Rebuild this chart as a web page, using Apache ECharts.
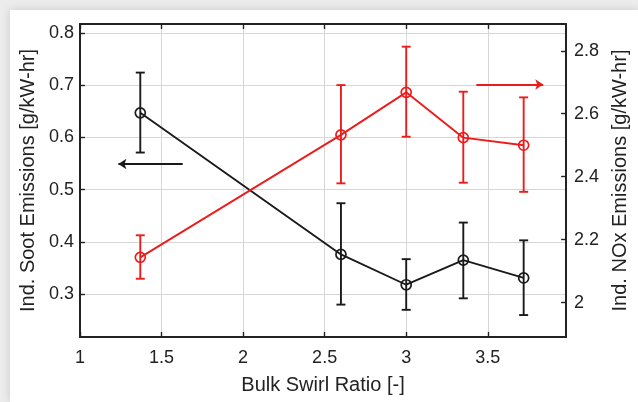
<!DOCTYPE html>
<html>
<head>
<meta charset="utf-8">
<script src="https://cdn.jsdelivr.net/npm/echarts@6/dist/echarts.min.js"></script>
<style>
    body { margin: 0; width: 638px; height: 402px; overflow: hidden; background: #ececec; }
    #chart { position: absolute; left: 10px; top: 10px; width: 628px; height: 392px; background: #fff; box-shadow: 0 0 8px rgba(0, 0, 0, 0.15); }
</style>
</head>
<body>
<div id="chart"></div>
<script>
// swirl ratio of each test point
const swirl = [1.37, 2.6, 3.0, 3.35, 3.72]
// soot (left axis) with error range
const soot = [0.647, 0.376, 0.318, 0.365, 0.331]
const sootLow = [0.571, 0.28, 0.270, 0.292, 0.26]
const sootHigh = [0.724, 0.474, 0.367, 0.437, 0.403]
// NOx (right axis) with error range
const nox = [2.144, 2.533, 2.668, 2.524, 2.50]
const noxLow = [2.076, 2.379, 2.527, 2.381, 2.352]
const noxHigh = [2.214, 2.691, 2.813, 2.670, 2.652]
// tick labels
const xTicks = [1, 1.5, 2, 2.5, 3, 3.5]
const sootTicks = [0.3, 0.4, 0.5, 0.6, 0.7, 0.8]
const noxTicks = [2, 2.2, 2.4, 2.6, 2.8]
// arrows pointing to the axis each curve belongs to
const sootArrow = [[1.63, 0.549], [1.236, 0.549]]
const noxArrow = [[3.43, 2.693], [3.84, 2.693]]

const black = '#1a1a1a'
const red = '#ec1c1c'
const axisColor = '#222'
const font = 'Liberation Sans, Arial, sans-serif'

const chart = echarts.init(document.getElementById('chart'))

function errorBars(color) {
    return function (params, api) {
        const x = api.value(0)
        const lo = api.coord([x, api.value(1)])
        const hi = api.coord([x, api.value(2)])
        const w = 4.5
        const style = { stroke: color, lineWidth: 1.9 }
        return {
            type: 'group',
            children: [
                { type: 'line', shape: { x1: lo[0], y1: lo[1], x2: hi[0], y2: hi[1] }, style },
                { type: 'line', shape: { x1: lo[0] - w, y1: lo[1], x2: lo[0] + w, y2: lo[1] }, style },
                { type: 'line', shape: { x1: hi[0] - w, y1: hi[1], x2: hi[0] + w, y2: hi[1] }, style }
            ]
        }
    }
}

const labelStyle = { fontSize: 18, color: axisColor, fontFamily: font }
const nameStyle = { fontSize: 20, color: axisColor, fontFamily: font }
const lineAxis = { show: true, onZero: false, lineStyle: { color: axisColor, width: 2 } }
const tickStyle = { color: axisColor, width: 1.4 }
const gridLine = { show: true, lineStyle: { color: '#d6d6d6', width: 1 } }

chart.setOption({
    animation: false,
    grid: { left: 68, top: 14, right: 68, bottom: 65 },
    xAxis: [{
        type: 'value',
        position: 'bottom',
        min: 1,
        max: 3.98,
        axisLine: lineAxis,
        axisTick: { inside: true, length: 5, customValues: xTicks, lineStyle: tickStyle },
        axisLabel: { customValues: xTicks, margin: 12, ...labelStyle },
        splitLine: gridLine,
        name: 'Bulk Swirl Ratio [-]',
        nameLocation: 'middle',
        nameGap: 38,
        nameTextStyle: nameStyle
    }, {
        type: 'value',
        position: 'top',
        min: 1,
        max: 3.98,
        axisLine: lineAxis,
        axisTick: { inside: true, length: 5, customValues: xTicks, lineStyle: tickStyle },
        axisLabel: { show: false },
        splitLine: { show: false }
    }],
    yAxis: [{
        type: 'value',
        position: 'left',
        min: 0.218,
        max: 0.817,
        axisLine: lineAxis,
        axisTick: { inside: true, length: 5, customValues: sootTicks, lineStyle: tickStyle },
        axisLabel: { customValues: sootTicks, margin: 6, ...labelStyle },
        splitLine: gridLine,
        name: 'Ind. Soot Emissions [g/kW-hr]',
        nameLocation: 'middle',
        nameGap: 32,
        nameTextStyle: nameStyle
    }, {
        type: 'value',
        position: 'right',
        min: 1.891,
        max: 2.885,
        axisLine: lineAxis,
        axisTick: { inside: true, length: 5, customValues: noxTicks, lineStyle: tickStyle },
        axisLabel: { customValues: noxTicks, margin: 8, ...labelStyle },
        splitLine: { show: false },
        name: 'Ind. NOx Emissions [g/kW-hr]',
        nameLocation: 'middle',
        nameGap: 37,
        nameTextStyle: nameStyle
    }],
    series: [{
        type: 'custom',
        yAxisIndex: 0,
        renderItem: errorBars(black),
        data: swirl.map((x, i) => [x, sootLow[i], sootHigh[i]]),
        z: 3
    }, {
        type: 'custom',
        yAxisIndex: 1,
        renderItem: errorBars(red),
        data: swirl.map((x, i) => [x, noxLow[i], noxHigh[i]]),
        z: 3
    }, {
        type: 'line',
        yAxisIndex: 0,
        data: swirl.map((x, i) => [x, soot[i]]),
        symbol: 'circle',
        symbolSize: 10,
        lineStyle: { color: black, width: 1.9 },
        itemStyle: { color: 'rgba(0,0,0,0)', borderColor: black, borderWidth: 1.7 },
        markLine: {
            silent: true,
            symbol: ['none', 'arrow'],
            symbolSize: 8,
            label: { show: false },
            lineStyle: { color: black, width: 1.9, type: 'solid' },
            data: [[{ coord: sootArrow[0] }, { coord: sootArrow[1] }]]
        },
        z: 4
    }, {
        type: 'line',
        yAxisIndex: 1,
        data: swirl.map((x, i) => [x, nox[i]]),
        symbol: 'circle',
        symbolSize: 10,
        lineStyle: { color: red, width: 1.9 },
        itemStyle: { color: 'rgba(0,0,0,0)', borderColor: red, borderWidth: 1.7 },
        markLine: {
            silent: true,
            symbol: ['none', 'arrow'],
            symbolSize: 8,
            label: { show: false },
            lineStyle: { color: red, width: 1.9, type: 'solid' },
            data: [[{ coord: noxArrow[0] }, { coord: noxArrow[1] }]]
        },
        z: 4
    }]
})
</script>
</body>
</html>
